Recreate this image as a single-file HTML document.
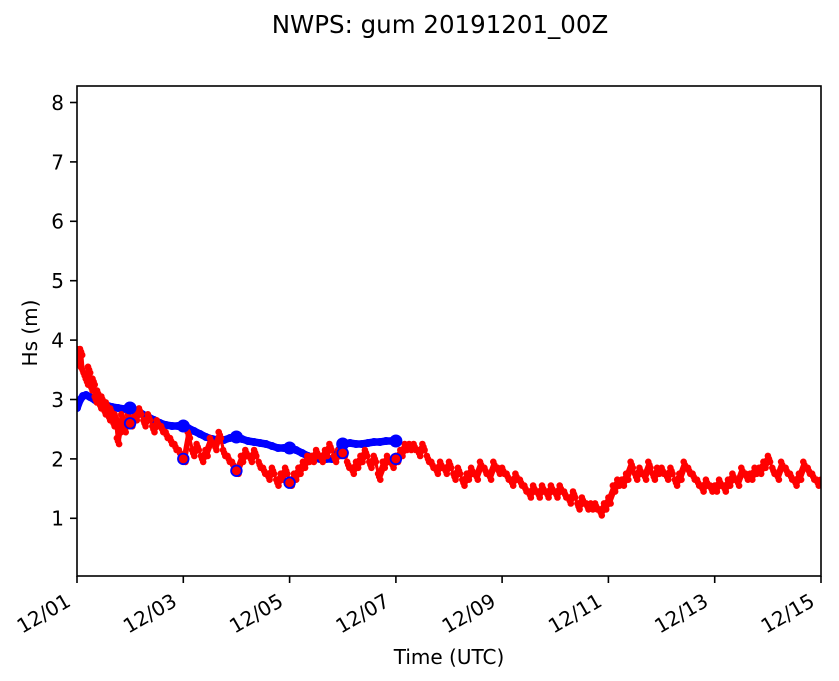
<!DOCTYPE html>
<html>
<head>
<meta charset="utf-8">
<style>
html,body{margin:0;padding:0;background:#fff;}
svg{display:block;}
text{font-family:"DejaVu Sans","Liberation Sans",sans-serif;fill:#000;}
</style>
</head>
<body>
<svg width="839" height="681" viewBox="0 0 839 681" xmlns="http://www.w3.org/2000/svg">
<defs>
<clipPath id="ax"><rect x="77" y="86" width="744" height="490"/></clipPath>
<marker id="rd" markerUnits="userSpaceOnUse" markerWidth="8" markerHeight="8" refX="4" refY="4" viewBox="0 0 8 8" overflow="visible">
<circle cx="4" cy="4" r="3.3" fill="#ff0000"/>
</marker>
<marker id="bd" markerUnits="userSpaceOnUse" markerWidth="8" markerHeight="8" refX="4" refY="4" viewBox="0 0 8 8" overflow="visible">
<circle cx="4" cy="4" r="4" fill="#0000ff"/>
</marker>
<polyline id="red" fill="none" stroke="#ff0000" stroke-width="2.5" stroke-linejoin="round" marker-start="url(#rd)" marker-mid="url(#rd)" marker-end="url(#rd)"
points="77,352 78.5,363.9 80,352 81.4,369.8 83.6,375.7 85.9,381.7 88,369.8 90.3,387.6 92.5,381.7 94.7,399.5 97,393.6 99.1,405.4 101.4,399.5 103.6,411.4 105.8,405.4 108,417.3 110.2,411.4 112.4,423.3 114.6,417.3 116.9,441.1 119,429.2 121.3,417.3 123.5,429.2 125.7,423.3 128,417.3 130.1,423.3 134.6,417.3 139,411.4 143.4,423.3 147.9,417.3 152.3,429.2 156.7,423.3 161.1,429.2 165.6,435.1 170,441.1 174.4,447 178.9,453 183.3,458.9 187.7,435.1 192.1,453 196.6,447 201,458.9 205.4,453 209.9,441.1 214.3,447 218.7,435.1 223.1,453 227.6,458.9 232,464.8 236.4,470.8 240.9,458.9 245.3,453 249.7,458.9 254.1,453 258.6,464.8 263,470.8 267.4,476.7 271.9,470.8 276.3,482.7 280.7,476.7 285.1,470.8 289.6,482.7 294,476.7 298.4,470.8 302.9,464.8 307.3,458.9 311.7,458.9 316.1,453 320.6,458.9 325,453 329.4,447 333.9,458.9 338.3,453 342.7,453 347.1,464.8 351.6,470.8 356,464.8 360.4,458.9 364.9,453 369.3,464.8 373.7,458.9 378.1,476.7 382.6,464.8 387,458.9 391.4,464.8 395.9,458.9 400.3,453 404.7,447 409.1,447 413.6,447 418,453 422.4,447 426.9,458.9 431.3,464.8 435.7,470.8 440.1,464.8 444.6,470.8 449,464.8 453.4,476.7 457.9,470.8 462.3,482.7 466.7,476.7 471.1,470.8 475.6,476.7 480,464.8 484.4,470.8 488.9,476.7 493.3,464.8 497.7,470.8 502.1,470.8 506.6,476.7 511,482.7 515.4,476.7 519.9,482.7 524.3,488.6 528.7,494.5 533.1,488.6 537.6,494.5 542,488.6 546.4,494.5 550.9,488.6 555.3,494.5 559.7,488.6 564.1,494.5 568.6,500.5 573,494.5 577.4,506.4 581.9,500.5 586.3,506.4 590.7,506.4 595.1,506.4 599.6,512.4 604,506.4 608.4,500.5 612.9,488.6 617.3,482.7 621.7,482.7 626.1,476.7 630.6,464.8 635,476.7 639.4,470.8 643.9,476.7 648.3,464.8 652.7,476.7 657.1,470.8 661.6,470.8 666,476.7 670.4,470.8 674.9,482.7 679.3,476.7 683.7,464.8 688.1,470.8 692.6,476.7 697,482.7 701.4,488.6 705.9,482.7 710.3,488.6 714.7,488.6 719.1,482.7 723.6,488.6 728,482.7 732.4,476.7 736.9,482.7 741.3,470.8 745.7,476.7 750.1,476.7 754.6,470.8 759,470.8 763.4,464.8 767.9,458.9 772.3,470.8 776.7,476.7 781.1,464.8 785.6,470.8 790,476.7 794.4,482.7 798.9,476.7 803.3,464.8 807.7,470.8 812.1,476.7 816.6,482.7 821,482.7"/>
</defs>
<rect width="839" height="681" fill="#fff"/>

<!-- title -->
<text x="440" y="33" font-size="24.5" text-anchor="middle">NWPS: gum 20191201_00Z</text>

<g clip-path="url(#ax)">
<!-- blue model line -->
<polyline fill="none" stroke="#0000ff" stroke-width="7.5" stroke-linejoin="round" stroke-linecap="round" marker-start="url(#bd)" marker-mid="url(#bd)" marker-end="url(#bd)"
points="77,408 80,400 83,396 86,395 90,397 95,400 100,403 106,405 112,407 118,408 124,409 130,409 136,411 142,414 148,417 154,420 160,423 166,425 172,426 178,426 183,426 188,428 194,431 200,434 206,437 212,439 218,440 224,440 230,438 236,437 242,439 248,441 254,442 260,443 266,444 272,446 278,448 284,448 290,448 296,450 302,453 308,456 314,458 320,459 326,459 332,459 336,457 339,450 343,444 350,443 356,444 362,444 368,443 374,442 380,442 386,441 392,441 396,441"/>
<!-- red obs line (jittered copies for density) -->
<use href="#red" transform="translate(0,-3)"/>
<use href="#red" transform="translate(2.2,3)"/>
<use href="#red" transform="translate(1.1,0)"/>
<!-- blue big daily dots -->
<g fill="#0000ff">
<circle cx="130" cy="408" r="6.5"/>
<circle cx="183.3" cy="426" r="6.5"/>
<circle cx="236.4" cy="437" r="6.5"/>
<circle cx="289.6" cy="448" r="6.5"/>
<circle cx="342.7" cy="444" r="6.5"/>
<circle cx="395.9" cy="441" r="6.5"/>
</g>
<!-- obs circles -->
<g fill="#ff0000" stroke="#0000ff" stroke-width="1.8">
<circle cx="130.1" cy="423.3" r="5.3"/>
<circle cx="183.3" cy="458.9" r="5.3"/>
<circle cx="236.4" cy="470.8" r="5.3"/>
<circle cx="289.6" cy="482.7" r="5.3"/>
<circle cx="342.7" cy="453" r="5.3"/>
<circle cx="395.9" cy="458.9" r="5.3"/>
</g>
</g>

<!-- axes frame -->
<rect x="77" y="86" width="744" height="490" fill="none" stroke="#000" stroke-width="1.6"/>

<!-- y ticks -->
<g stroke="#000" stroke-width="1.6">
<line x1="70" y1="518.3" x2="77" y2="518.3"/>
<line x1="70" y1="458.9" x2="77" y2="458.9"/>
<line x1="70" y1="399.5" x2="77" y2="399.5"/>
<line x1="70" y1="340.1" x2="77" y2="340.1"/>
<line x1="70" y1="280.7" x2="77" y2="280.7"/>
<line x1="70" y1="221.3" x2="77" y2="221.3"/>
<line x1="70" y1="161.9" x2="77" y2="161.9"/>
<line x1="70" y1="102.5" x2="77" y2="102.5"/>
</g>
<g font-size="20" text-anchor="end">
<text x="64" y="525.7">1</text>
<text x="64" y="466.3">2</text>
<text x="64" y="406.9">3</text>
<text x="64" y="347.5">4</text>
<text x="64" y="288.1">5</text>
<text x="64" y="228.7">6</text>
<text x="64" y="169.3">7</text>
<text x="64" y="109.9">8</text>
</g>

<!-- x ticks -->
<g stroke="#000" stroke-width="1.6">
<line x1="77" y1="576" x2="77" y2="583"/>
<line x1="183.3" y1="576" x2="183.3" y2="583"/>
<line x1="289.6" y1="576" x2="289.6" y2="583"/>
<line x1="395.9" y1="576" x2="395.9" y2="583"/>
<line x1="502.1" y1="576" x2="502.1" y2="583"/>
<line x1="608.4" y1="576" x2="608.4" y2="583"/>
<line x1="714.7" y1="576" x2="714.7" y2="583"/>
<line x1="821" y1="576" x2="821" y2="583"/>
</g>
<g font-size="20" text-anchor="end">
<text transform="translate(72,605) rotate(-30)">12/01</text>
<text transform="translate(178.3,605) rotate(-30)">12/03</text>
<text transform="translate(284.6,605) rotate(-30)">12/05</text>
<text transform="translate(390.9,605) rotate(-30)">12/07</text>
<text transform="translate(497.1,605) rotate(-30)">12/09</text>
<text transform="translate(603.4,605) rotate(-30)">12/11</text>
<text transform="translate(709.7,605) rotate(-30)">12/13</text>
<text transform="translate(816,605) rotate(-30)">12/15</text>
</g>

<!-- axis labels -->
<text x="449" y="664" font-size="20" text-anchor="middle">Time (UTC)</text>
<text transform="translate(37,333) rotate(-90)" font-size="20" text-anchor="middle">Hs (m)</text>
</svg>
</body>
</html>
